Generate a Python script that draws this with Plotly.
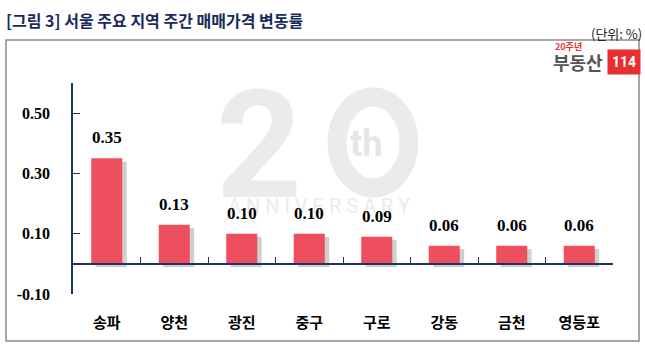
import plotly.graph_objects as go

categories = ["송파", "양천", "광진", "중구", "구로", "강동", "금천", "영등포"]
values = [0.35, 0.13, 0.10, 0.10, 0.09, 0.06, 0.06, 0.06]
value_labels = ["0.35", "0.13", "0.10", "0.10", "0.09", "0.06", "0.06", "0.06"]
y_tick_vals = [-0.10, 0.10, 0.30, 0.50]
y_tick_text = ["-0.10", "0.10", "0.30", "0.50"]

NAVY = "#1F3264"
BAR = "#EE4F5E"
KR = "Noto Sans CJK KR"
SERIF = "Liberation Serif"

n = len(categories)
x_idx = list(range(n))
boundaries = [i + 0.5 for i in x_idx]
bw = 0.46

fig = go.Figure()
# shadow behind bars
fig.add_trace(go.Bar(
    x=x_idx, y=values, base=[-0.011] * n, width=bw, offset=-bw / 2 + 0.065,
    marker=dict(color="rgba(160,160,160,0.5)", line_width=0),
    hoverinfo="skip", showlegend=False))
fig.add_trace(go.Bar(
    x=x_idx, y=values, width=bw, offset=-bw / 2,
    marker=dict(color=BAR, line_width=0), showlegend=False))
# invisible trace for the zero-line axis
fig.add_trace(go.Scatter(x=[x_idx[0]], y=[0], xaxis="x2", mode="markers",
                         marker=dict(opacity=0), hoverinfo="skip", showlegend=False))

fig_w, fig_h = 645, 362
ml, mr, mt, mb = 73, 32, 83, 68
pw, ph = fig_w - ml - mr, fig_h - mt - mb


def px_paper(x, y):
    return (x - ml) / pw, 1 - (y - mt) / ph


def ann_px(x, y, text, xanchor="left", yanchor="middle", **kw):
    px, py = px_paper(x, y)
    d = dict(x=px, y=py, xref="paper", yref="paper", text=text, showarrow=False,
             xanchor=xanchor, yanchor=yanchor)
    d.update(kw)
    return d


watermark = "#EBEBEB"
annotations = [
    ann_px(214, 146, "2", font=dict(family="Roboto", size=150, color=watermark, weight="bold")),
    ann_px(366, 144, "th", xanchor="center", font=dict(family="Roboto", size=36, color="#E6E6E6", weight="bold")),
    ann_px(319, 206, "A N N I V E R S A R Y", xanchor="center", font=dict(family="Roboto", size=20, color=watermark)),
]

for xi, v, lab in zip(x_idx, values, value_labels):
    annotations.append(dict(x=xi, y=v, xref="x", yref="y", text=lab, showarrow=False,
                            yanchor="bottom", yshift=9,
                            font=dict(family=SERIF, size=17, color="#000000", weight="bold")))

annotations += [
    ann_px(4, 20, "[그림 3] 서울 주요 지역 주간 매매가격 변동률",
           font=dict(family=KR, size=16, color="#172B5C", weight="bold")),
    ann_px(644, 33, "(단위: %)", xanchor="right",
           font=dict(family=KR, size=13, color="#222222")),
    ann_px(553, 46, "20주년", font=dict(family=KR, size=9, color="#E8302E", weight="bold")),
    ann_px(551, 62, "부동산", font=dict(family=KR, size=18, color="#555555", weight="bold")),
    ann_px(624, 62, "114", xanchor="center", bgcolor="#E8302E", borderpad=4,
           font=dict(family="Roboto", size=14, color="#FFFFFF", weight="bold")),
]

ring_x0, ring_y1 = px_paper(337, 97)
ring_x1, ring_y0 = px_paper(409, 188)

fig.update_layout(
    width=fig_w, height=fig_h,
    margin=dict(l=ml, r=mr, t=mt, b=mb, pad=0),
    paper_bgcolor="#FFFFFF", plot_bgcolor="rgba(0,0,0,0)",
    barmode="overlay", showlegend=False,
    xaxis=dict(range=[-0.5, n - 0.5], tickvals=x_idx, ticktext=categories,
               showline=False, showgrid=False, zeroline=False, ticks="",
               ticklabelstandoff=18,
               tickfont=dict(family=KR, size=15, color="#000000", weight="bold")),
    xaxis2=dict(range=[-0.5, n - 0.5], overlaying="x", anchor="free",
                position=(0 - (-0.1)) / 0.7, side="bottom",
                showline=True, linecolor=NAVY, linewidth=1.5,
                ticks="inside", tickvals=boundaries, ticklen=6, tickwidth=1.2, tickcolor=NAVY,
                showticklabels=False, showgrid=False, zeroline=False),
    yaxis=dict(range=[-0.1, 0.6], tickvals=y_tick_vals, ticktext=y_tick_text,
               showline=True, linecolor=NAVY, linewidth=1.5,
               ticks="inside", ticklen=7, tickwidth=1.2, tickcolor=NAVY,
               showgrid=False, zeroline=False, ticklabelstandoff=18,
               tickfont=dict(family=SERIF, size=16, color="#000000", weight="bold")),
    annotations=annotations,
    shapes=[
        dict(type="rect", xref="paper", yref="paper",
             x0=px_paper(6, 0)[0], x1=px_paper(639, 0)[0],
             y0=px_paper(0, 341)[1], y1=px_paper(0, 40)[1],
             line=dict(color="#8A8A8A", width=1.5), layer="below"),
        dict(type="circle", xref="paper", yref="paper",
             x0=ring_x0, x1=ring_x1, y0=ring_y0, y1=ring_y1,
             line=dict(color=watermark, width=19), layer="below"),
    ],
)

fig.write_html("out.html", config={"displayModeBar": False},
               post_script="document.body.style.margin='0';")
